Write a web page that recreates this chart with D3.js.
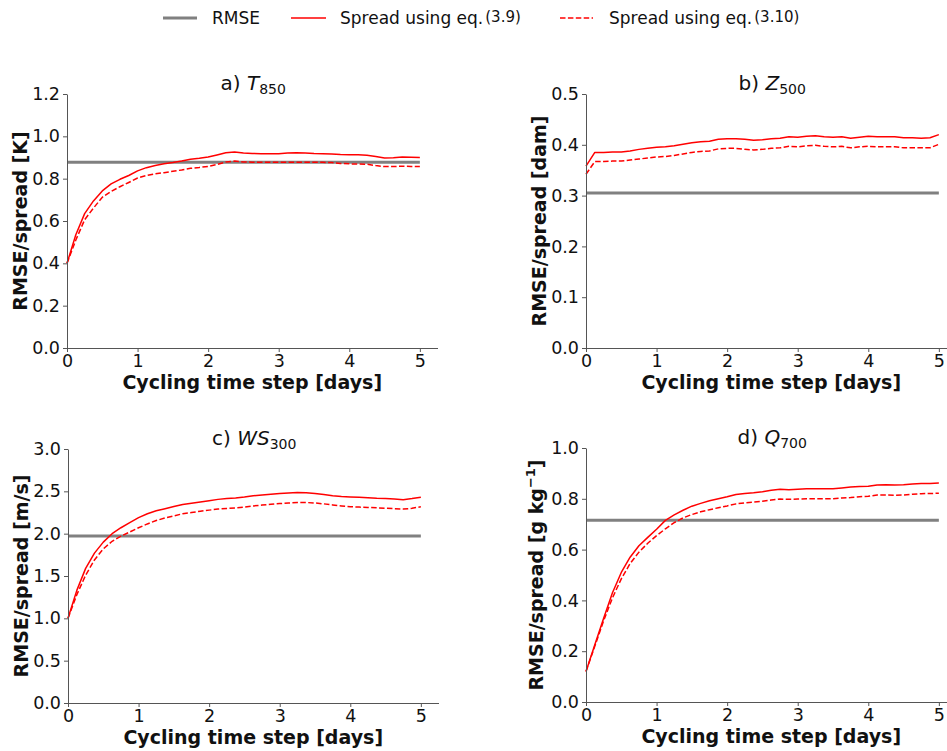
<!DOCTYPE html>
<html>
<head>
<meta charset="utf-8">
<script src="https://cdn.jsdelivr.net/npm/d3@7"></script>
<style>
  html, body { margin: 0; padding: 0; background: #fff; }
  svg { display: block; font-family: "DejaVu Sans", sans-serif; }
</style>
</head>
<body>
<svg id="chart" width="947" height="751"></svg>
<script>
// Cycling time (days), 3-hourly steps
const days = [0, 0.125, 0.25, 0.375, 0.5, 0.625, 0.75, 0.875, 1, 1.125, 1.25, 1.375, 1.5, 1.625, 1.75, 1.875,
  2, 2.125, 2.25, 2.375, 2.5, 2.625, 2.75, 2.875, 3, 3.125, 3.25, 3.375, 3.5, 3.625, 3.75, 3.875,
  4, 4.125, 4.25, 4.375, 4.5, 4.625, 4.75, 4.875, 5];

// a) T850 [K]
const t850Rmse = 0.878;
const t850Spread39 = [0.40, 0.535, 0.635, 0.695, 0.742, 0.775, 0.797, 0.815, 0.837, 0.852, 0.862, 0.870, 0.876, 0.883, 0.892, 0.896,
  0.902, 0.912, 0.922, 0.926, 0.921, 0.919, 0.918, 0.918, 0.918, 0.921, 0.923, 0.921, 0.919, 0.918, 0.916, 0.914,
  0.913, 0.913, 0.911, 0.905, 0.898, 0.899, 0.902, 0.901, 0.900];
const t850Spread310 = [0.40, 0.51, 0.606, 0.661, 0.712, 0.740, 0.762, 0.782, 0.803, 0.815, 0.823, 0.828, 0.835, 0.841, 0.849, 0.853,
  0.858, 0.867, 0.879, 0.883, 0.879, 0.878, 0.878, 0.877, 0.877, 0.877, 0.878, 0.878, 0.877, 0.877, 0.876, 0.872,
  0.870, 0.869, 0.868, 0.862, 0.857, 0.857, 0.859, 0.858, 0.858];

// b) Z500 [dam]
const z500Rmse = 0.305;
const z500Spread39 = [0.358, 0.385, 0.385, 0.386, 0.386, 0.388, 0.391, 0.393, 0.395, 0.396, 0.398, 0.401, 0.404, 0.406, 0.407, 0.411,
  0.412, 0.412, 0.411, 0.409, 0.410, 0.412, 0.413, 0.416, 0.415, 0.417, 0.418, 0.416, 0.415, 0.416, 0.413, 0.415,
  0.417, 0.416, 0.416, 0.416, 0.414, 0.414, 0.413, 0.414, 0.420];
const z500Spread310 = [0.342, 0.367, 0.367, 0.368, 0.368, 0.370, 0.372, 0.374, 0.376, 0.377, 0.379, 0.382, 0.385, 0.387, 0.388, 0.392,
  0.393, 0.393, 0.391, 0.390, 0.391, 0.393, 0.394, 0.397, 0.396, 0.398, 0.399, 0.397, 0.396, 0.397, 0.394, 0.396,
  0.397, 0.396, 0.396, 0.396, 0.394, 0.394, 0.394, 0.394, 0.401];

// c) WS300 [m/s]
const ws300Rmse = 1.972;
const ws300Spread39 = [1.00, 1.33, 1.59, 1.77, 1.90, 2.00, 2.07, 2.13, 2.19, 2.235, 2.27, 2.295, 2.32, 2.345, 2.36, 2.375,
  2.39, 2.405, 2.415, 2.422, 2.432, 2.447, 2.458, 2.466, 2.474, 2.48, 2.486, 2.484, 2.475, 2.462, 2.448, 2.438,
  2.433, 2.430, 2.425, 2.418, 2.414, 2.408, 2.402, 2.414, 2.430];
const ws300Spread310 = [1.00, 1.28, 1.51, 1.69, 1.82, 1.91, 1.97, 2.02, 2.07, 2.115, 2.155, 2.185, 2.21, 2.235, 2.25, 2.265,
  2.278, 2.29, 2.298, 2.305, 2.315, 2.328, 2.338, 2.347, 2.355, 2.362, 2.368, 2.368, 2.362, 2.352, 2.340, 2.328,
  2.318, 2.314, 2.310, 2.305, 2.300, 2.295, 2.290, 2.300, 2.318];

// d) Q700 [g/kg]
const q700Rmse = 0.716;
const q700Spread39 = [0.12, 0.225, 0.33, 0.43, 0.51, 0.57, 0.615, 0.648, 0.68, 0.715, 0.737, 0.755, 0.771, 0.782, 0.792, 0.800,
  0.808, 0.817, 0.821, 0.824, 0.828, 0.834, 0.838, 0.836, 0.838, 0.840, 0.840, 0.840, 0.840, 0.843, 0.846, 0.848,
  0.849, 0.854, 0.855, 0.854, 0.855, 0.858, 0.860, 0.860, 0.862];
const q700Spread310 = [0.12, 0.22, 0.32, 0.41, 0.485, 0.545, 0.59, 0.625, 0.655, 0.682, 0.706, 0.725, 0.738, 0.749, 0.757, 0.765,
  0.772, 0.780, 0.784, 0.787, 0.790, 0.795, 0.799, 0.798, 0.799, 0.800, 0.800, 0.800, 0.800, 0.803, 0.805, 0.808,
  0.810, 0.815, 0.815, 0.814, 0.815, 0.818, 0.820, 0.821, 0.822];

// Axis tick values
const xTicks = [0, 1, 2, 3, 4, 5];
const yTicksA = [0, 0.2, 0.4, 0.6, 0.8, 1.0, 1.2];
const yTicksB = [0, 0.1, 0.2, 0.3, 0.4, 0.5];
const yTicksC = [0, 0.5, 1.0, 1.5, 2.0, 2.5, 3.0];
const yTicksD = [0, 0.2, 0.4, 0.6, 0.8, 1.0];

const legendLabels = ["RMSE", "Spread using eq.", "Spread using eq."];
const legendEqs = ["", "(3.9)", "(3.10)"];

const svg = d3.select("#chart");
const RED = "#ff0000", GREY = "#808080", SPINE = "#555555";

const panels = [
  { letter: "a)", sym: "T", sub: "850", unit: ["[K]"], left: 67, top: 94, yMax: 1.2, yTicks: yTicksA,
    rmse: t850Rmse, s39: t850Spread39, s310: t850Spread310, ylabX: 20 },
  { letter: "b)", sym: "Z", sub: "500", unit: ["[dam]"], left: 586, top: 94, yMax: 0.5, yTicks: yTicksB,
    rmse: z500Rmse, s39: z500Spread39, s310: z500Spread310, ylabX: 539 },
  { letter: "c)", sym: "WS", sub: "300", unit: ["[m/s]"], left: 68, top: 449, yMax: 3.0, yTicks: yTicksC,
    rmse: ws300Rmse, s39: ws300Spread39, s310: ws300Spread310, ylabX: 21 },
  { letter: "d)", sym: "Q", sub: "700", unit: ["[g kg", "−1", "]"], left: 586, top: 448, yMax: 1.0, yTicks: yTicksD,
    rmse: q700Rmse, s39: q700Spread39, s310: q700Spread310, ylabX: 536 }
];

const plotW = 370.5, plotH = 254;

panels.forEach(p => {
  const g = svg.append("g").attr("transform", `translate(${p.left},${p.top})`);
  const x = d3.scaleLinear().domain([0, 5.25]).range([0, plotW]);
  const y = d3.scaleLinear().domain([0, p.yMax]).range([plotH, 0]);

  // RMSE reference line
  g.append("line")
    .attr("x1", x(0)).attr("x2", x(5))
    .attr("y1", y(p.rmse)).attr("y2", y(p.rmse))
    .attr("stroke", GREY).attr("stroke-width", 3);

  const line = d3.line().x((d, i) => x(days[i])).y(d => y(d));

  g.append("path").datum(p.s39)
    .attr("d", line).attr("fill", "none")
    .attr("stroke", RED).attr("stroke-width", 1.5).attr("stroke-linejoin", "round");

  g.append("path").datum(p.s310)
    .attr("d", line).attr("fill", "none")
    .attr("stroke", RED).attr("stroke-width", 1.5)
    .attr("stroke-dasharray", "5.5,2.4");

  // Axes
  const xAxis = g.append("g").attr("transform", `translate(0,${plotH})`)
    .call(d3.axisBottom(x).tickValues(xTicks).tickFormat(d3.format("d")).tickSize(4).tickPadding(3).tickSizeOuter(0));
  const yAxis = g.append("g")
    .call(d3.axisLeft(y).tickValues(p.yTicks).tickFormat(d3.format(".1f")).tickSize(4).tickPadding(3).tickSizeOuter(0));
  [xAxis, yAxis].forEach(a => {
    a.select(".domain").attr("stroke", SPINE).attr("stroke-width", 1);
    a.selectAll(".tick line").attr("stroke", SPINE);
    a.selectAll(".tick text").attr("fill", "#111").style("font-size", "17.5px")
      .style("font-family", "DejaVu Sans, sans-serif");
  });

  // x-axis label
  g.append("text")
    .attr("x", plotW / 2).attr("y", plotH + 41)
    .attr("text-anchor", "middle")
    .style("font-size", "19px").style("font-weight", "bold").attr("fill", "#111")
    .text("Cycling time step [days]");

  // y-axis label
  const yl = svg.append("text")
    .attr("transform", `translate(${p.ylabX + 7},${p.top + plotH / 2}) rotate(-90)`)
    .attr("text-anchor", "middle")
    .style("font-size", "19px").style("font-weight", "bold").attr("fill", "#111");
  yl.append("tspan").text("RMSE/spread " + p.unit[0]);
  if (p.unit.length > 1) {
    yl.append("tspan").attr("dy", -8).style("font-size", "13px").text(p.unit[1]);
    yl.append("tspan").attr("dy", 8).text(p.unit[2]);
  }

  // Panel title
  const t = g.append("text")
    .attr("x", plotW / 2 + 1).attr("y", -4)
    .attr("text-anchor", "middle")
    .style("font-size", "20px").attr("fill", "#111");
  t.append("tspan").text(p.letter + " ");
  t.append("tspan").style("font-style", "italic").text(p.sym);
  t.append("tspan").attr("dy", 4).style("font-size", "14px").text(p.sub);
});

// Legend
const legend = svg.append("g");
const legendItems = [
  { x1: 163, x2: 197, color: GREY, w: 3, dash: null, tx: 212 },
  { x1: 291, x2: 326, color: RED, w: 1.5, dash: null, tx: 340 },
  { x1: 560, x2: 593, color: RED, w: 1.5, dash: "5.5,2.4", tx: 609 }
];
legendItems.forEach((it, i) => {
  legend.append("line")
    .attr("x1", it.x1).attr("x2", it.x2).attr("y1", 18).attr("y2", 18)
    .attr("stroke", it.color).attr("stroke-width", it.w)
    .attr("stroke-dasharray", it.dash);
  const tx = legend.append("text")
    .attr("x", it.tx).attr("y", 24)
    .style("font-size", "17px").attr("fill", "#111");
  tx.append("tspan").text(legendLabels[i]);
  if (legendEqs[i]) {
    tx.append("tspan").attr("dx", 2).attr("dy", -2).style("font-size", "15px").text(legendEqs[i]);
  }
});
</script>
</body>
</html>
